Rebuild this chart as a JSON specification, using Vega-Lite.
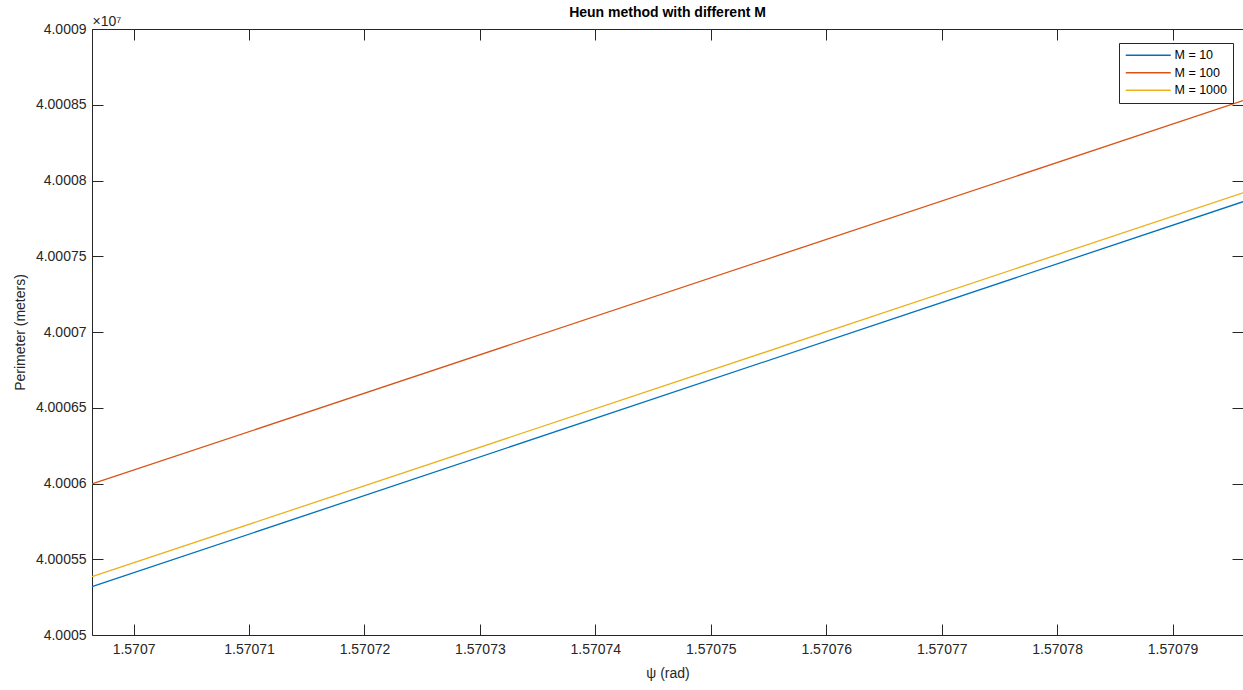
{
  "$schema": "https://vega.github.io/schema/vega-lite/v6.json",
  "width": 1151,
  "height": 606,
  "autosize": {"type": "none"},
  "padding": {"left": 92, "top": 29, "right": 0, "bottom": 55},
  "background": "white",
  "config": {
    "font": "Liberation Sans",
    "view": {"stroke": null},
    "axis": {
      "grid": false,
      "domainColor": "#262626",
      "domainWidth": 1,
      "tickColor": "#262626",
      "tickWidth": 1,
      "labelColor": "#262626",
      "labelFontSize": 14,
      "labelFont": "Liberation Sans",
      "titleColor": "#262626",
      "titleFont": "Liberation Sans",
      "titleFontWeight": "normal"
    }
  },
  "title": {
    "text": "Heun method with different M",
    "fontSize": 14,
    "fontWeight": "bold",
    "font": "Liberation Sans",
    "color": "#000000",
    "frame": "group",
    "anchor": "middle",
    "offset": 9,
    "dy": 15
  },
  "data": {
    "values": [
      {"series": "M = 10", "psi": 1.5706964, "perimeter": 40005319},
      {"series": "M = 10", "psi": 1.5707961, "perimeter": 40007860},
      {"series": "M = 100", "psi": 1.5706964, "perimeter": 40005997},
      {"series": "M = 100", "psi": 1.5707961, "perimeter": 40008527},
      {"series": "M = 1000", "psi": 1.5706964, "perimeter": 40005385},
      {"series": "M = 1000", "psi": 1.5707961, "perimeter": 40007919}
    ]
  },
  "layer": [
    {
      "mark": {"type": "line", "opacity": 0},
      "encoding": {
        "x": {
          "field": "psi", "type": "quantitative",
          "scale": {"domain": [1.5706964, 1.5707961], "zero": false, "nice": false},
          "axis": {
            "orient": "top", "labels": false, "tickSize": -11,
            "values": [1.5707, 1.57071, 1.57072, 1.57073, 1.57074, 1.57075, 1.57076, 1.57077, 1.57078, 1.57079],
            "title": "×10⁷", "titleFontSize": 14, "titleAngle": 0, "titleAlign": "left",
            "titleBaseline": "alphabetic", "titleX": 0, "titleY": -4
          }
        },
        "y": {
          "field": "perimeter", "type": "quantitative",
          "scale": {"domain": [40005000, 40009000], "zero": false, "nice": false},
          "axis": {
            "orient": "right", "labels": false, "tickSize": -11, "title": null,
            "values": [40005000, 40005500, 40006000, 40006500, 40007000, 40007500, 40008000, 40008500, 40009000]
          }
        },
        "detail": {"field": "series"}
      }
    },
    {
      "mark": {"type": "line", "strokeWidth": 1.3},
      "encoding": {
        "x": {
          "field": "psi", "type": "quantitative",
          "axis": {
            "orient": "bottom", "tickSize": -11, "labelPadding": 18,
            "values": [1.5707, 1.57071, 1.57072, 1.57073, 1.57074, 1.57075, 1.57076, 1.57077, 1.57078, 1.57079],
            "labelExpr": "format(datum.value, '.5~f')",
            "title": "ψ (rad)", "titleFontSize": 14, "titleBaseline": "middle", "titleY": 38
          }
        },
        "y": {
          "field": "perimeter", "type": "quantitative",
          "axis": {
            "orient": "left", "tickSize": -11, "labelPadding": 17,
            "values": [40005000, 40005500, 40006000, 40006500, 40007000, 40007500, 40008000, 40008500, 40009000],
            "labelExpr": "format(datum.value / 10000000, '.5~f')",
            "title": "Perimeter (meters)", "titleFontSize": 14, "titleBaseline": "middle",
            "titleX": -72, "titleY": 303
          }
        },
        "color": {
          "field": "series", "type": "nominal",
          "scale": {"domain": ["M = 10", "M = 100", "M = 1000"], "range": ["#0072BD", "#D95319", "#EDB120"]},
          "legend": {
            "title": null, "orient": "none", "legendX": 1027, "legendY": 14,
            "strokeColor": "#262626", "fillColor": "white", "padding": 6,
            "symbolType": "M-4.5,0H4.5", "symbolSize": 100, "symbolStrokeWidth": 1.5,
            "symbolOffset": 17, "labelOffset": 20, "labelFontSize": 12.5, "labelColor": "#000000",
            "rowPadding": 4.5
          }
        }
      }
    }
  ]
}
